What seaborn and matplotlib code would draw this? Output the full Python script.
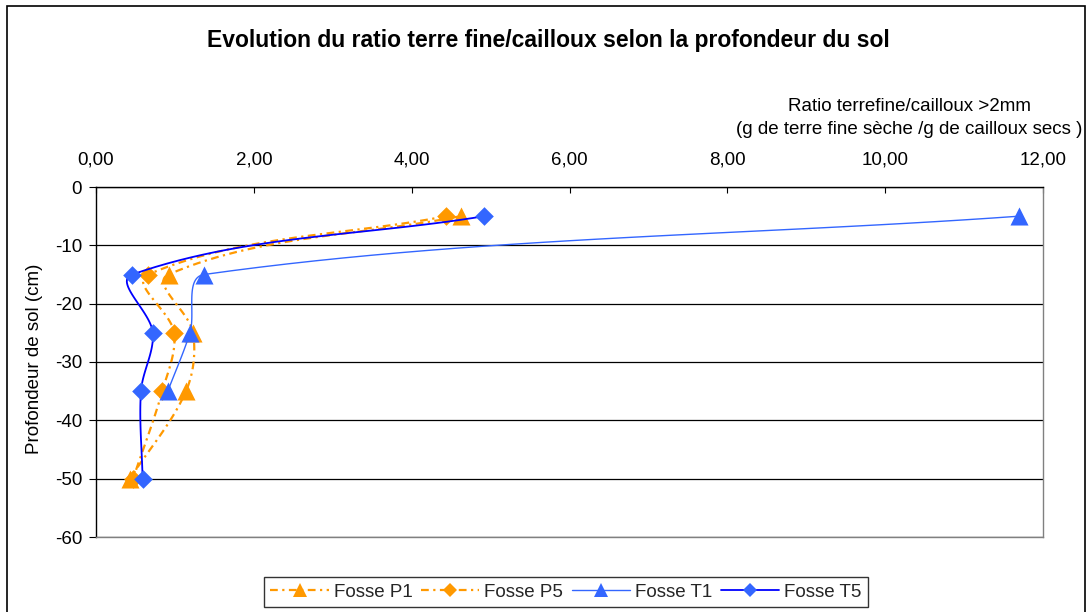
import numpy as np
import matplotlib
matplotlib.use("Agg")
import matplotlib.pyplot as plt
from matplotlib.lines import Line2D
from matplotlib.patches import Rectangle
from matplotlib.ticker import FuncFormatter
import seaborn as sns

# Soil depth (cm) and ratio fine earth / stones > 2 mm for each pit
depth = [-5, -15, -25, -35, -50]
fosse_p1 = [4.62, 0.92, 1.23, 1.14, 0.43]
fosse_p5 = [4.44, 0.66, 0.99, 0.84, 0.47]
fosse_t1 = [11.70, 1.37, 1.19, 0.91, np.nan]
fosse_t5 = [4.92, 0.46, 0.72, 0.57, 0.59]
series_names = ["Fosse P1", "Fosse P5", "Fosse T1", "Fosse T5"]

x_ticks = [0, 2, 4, 6, 8, 10, 12]
y_ticks = [0, -10, -20, -30, -40, -50, -60]

ORANGE = "#FF9900"
BLUE_LIGHT = "#3366FF"
BLUE_DARK = "#0000FF"
DASHDOT = (0, (3.5, 2.0, 1.0, 2.0))
FS = 13.5

sns.set_theme(style="white")
plt.rcParams["font.family"] = ["Liberation Sans", "DejaVu Sans"]

fig = plt.figure(figsize=(10.9, 6.12), dpi=100)
W, H = 1090, 612
# outer chart frame
fig.patches.append(Rectangle((7 / W, 1 - 640 / H), 1078 / W, 634 / H,
                             transform=fig.transFigure, fill=False,
                             edgecolor="black", linewidth=1.2))

ax = fig.add_axes([96 / W, 1 - 537 / H, 947 / W, 350 / H])
ax.set_xlim(0, 12)
ax.set_ylim(-60, 0)


def smooth_curve(xs, ys, n=30):
    """Bezier smoothing computed in display space, returned in data space."""
    xs = np.asarray(xs, float)
    ys = np.asarray(ys, float)
    ok = ~np.isnan(xs) & ~np.isnan(ys)
    pts = ax.transData.transform(np.column_stack([xs[ok], ys[ok]]))
    out = [pts[0]]
    t = np.linspace(0, 1, n)[1:, None]
    for i in range(len(pts) - 1):
        p0, p1 = pts[i], pts[i + 1]
        prev = pts[i - 1] if i > 0 else p0
        nxt = pts[i + 2] if i + 2 < len(pts) else p1
        seg = np.linalg.norm(p1 - p0)
        d0 = p1 - prev
        d0 = d0 / np.linalg.norm(d0)
        d1 = nxt - p0
        d1 = d1 / np.linalg.norm(d1)
        c0 = p0 + d0 * seg / 3
        c1 = p1 - d1 * seg / 3
        curve = ((1 - t) ** 3) * p0 + 3 * ((1 - t) ** 2) * t * c0 \
            + 3 * (1 - t) * t ** 2 * c1 + t ** 3 * p1
        out.extend(curve)
    data = ax.transData.inverted().transform(np.array(out))
    return data[:, 0], data[:, 1]


styles = [
    dict(vals=fosse_p1, lc=ORANGE, mc=ORANGE, ls=DASHDOT, lw=1.6, mk="^", ms=13),
    dict(vals=fosse_p5, lc=ORANGE, mc=ORANGE, ls=DASHDOT, lw=1.6, mk="D", ms=9.5),
    dict(vals=fosse_t1, lc=BLUE_LIGHT, mc=BLUE_LIGHT, ls="-", lw=1.0, mk="^", ms=13),
    dict(vals=fosse_t5, lc=BLUE_DARK, mc=BLUE_LIGHT, ls="-", lw=1.3, mk="D", ms=9.5),
]

for k, st in enumerate(styles):
    cx, cy = smooth_curve(st["vals"], depth)
    sns.lineplot(x=cx, y=cy, sort=False, estimator=None, ax=ax,
                 color=st["lc"], linestyle=st["ls"], linewidth=st["lw"],
                 zorder=3 + 2 * k)
    sns.scatterplot(x=st["vals"], y=depth, ax=ax, marker=st["mk"],
                    s=st["ms"] ** 2, color=st["mc"], linewidth=0,
                    zorder=4 + 2 * k)

# axes: values on top, depth on the left
ax.xaxis.tick_top()
ax.set_xticks(x_ticks)
ax.set_yticks(y_ticks)
ax.xaxis.set_major_formatter(FuncFormatter(lambda v, p: f"{v:.2f}".replace(".", ",")))
ax.yaxis.set_major_formatter(FuncFormatter(lambda v, p: f"{int(v)}"))
ax.tick_params(axis="x", direction="in", length=4, width=0.8, color="black",
               pad=13, labelsize=FS, labelcolor="black", top=True, bottom=False)
ax.tick_params(axis="y", direction="out", length=5, width=0.8, color="black",
               pad=5, labelsize=FS, labelcolor="black", left=True)

ax.yaxis.grid(True, color="black", linewidth=0.9)
ax.xaxis.grid(False)
ax.set_axisbelow(True)
for side in ("top", "left"):
    ax.spines[side].set_color("black")
    ax.spines[side].set_linewidth(1.0)
for side in ("right", "bottom"):
    ax.spines[side].set_color("#808080")
    ax.spines[side].set_linewidth(1.0)
ax.set_xlabel("")
ax.set_ylabel("")

fig.text(35 / W, 1 - 359 / H, "Profondeur de sol (cm)", rotation=90,
         ha="center", va="center", fontsize=FS, color="black")
fig.text(909 / W, 1 - 106 / H, "Ratio terrefine/cailloux >2mm",
         ha="center", va="center", fontsize=FS, color="black")
fig.text(909 / W, 1 - 130 / H, "(g de terre fine sèche /g de cailloux secs )",
         ha="center", va="center", fontsize=FS, color="black")
fig.text(548 / W, 1 - 40 / H,
         "Evolution du ratio terre fine/cailloux selon la profondeur du sol",
         ha="center", va="center", fontsize=16.5, fontweight="bold", color="black")

handles = [
    Line2D([], [], color=st["lc"], linestyle=st["ls"], linewidth=st["lw"],
           marker=st["mk"], markersize=st["ms"] * 0.8,
           markerfacecolor=st["mc"], markeredgewidth=0)
    for st in styles
]
leg = fig.legend(handles, series_names, loc="center", ncol=4,
                 bbox_to_anchor=(566 / W, 1 - 592 / H), fontsize=FS,
                 frameon=True, fancybox=False, edgecolor="black",
                 handlelength=3.1, columnspacing=0.45, handletextpad=0.28,
                 borderpad=0.35, borderaxespad=0)
leg.get_frame().set_linewidth(1.0)

fig.savefig("out.png", dpi=100)
